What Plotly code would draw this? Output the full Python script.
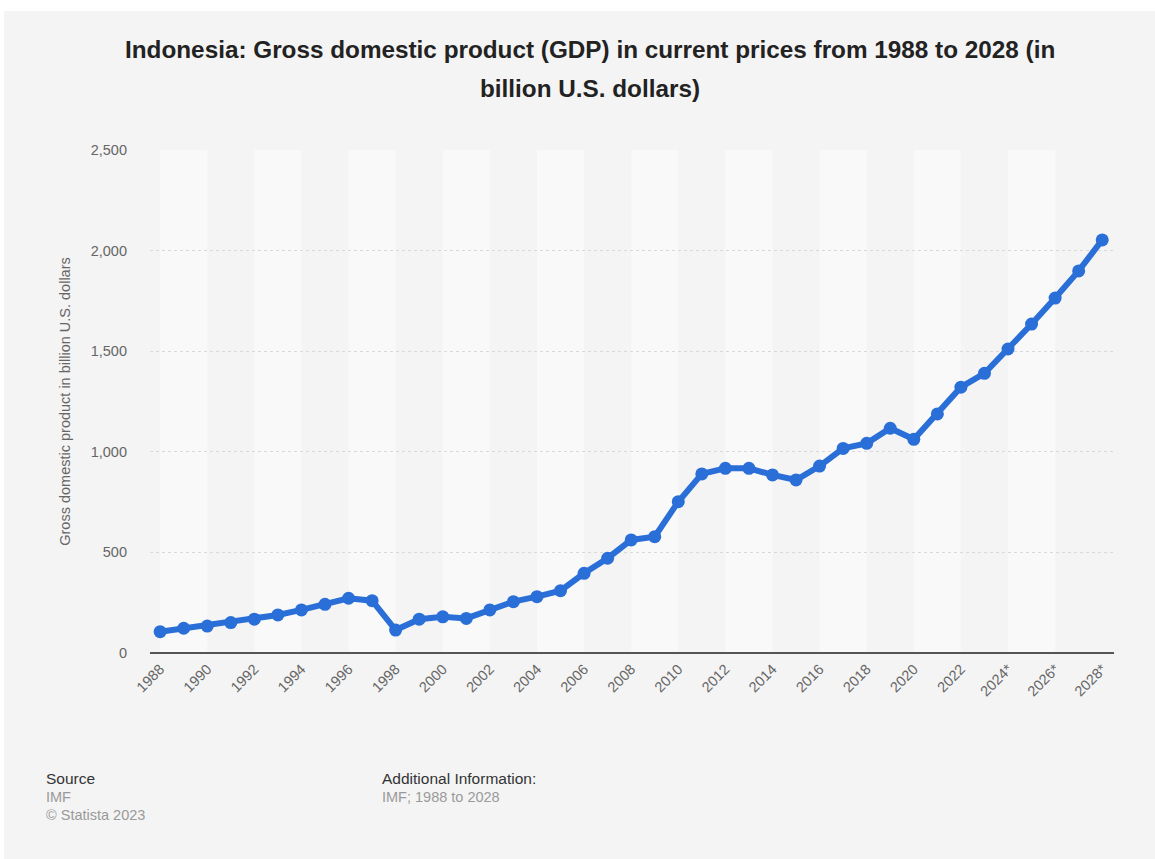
import plotly.graph_objects as go

# Indonesia GDP, current prices, billion U.S. dollars (2024 onward are IMF forecasts)
years = list(range(1988, 2029))
gdp = [106, 123, 134, 151, 168, 189, 214, 242, 272, 260,
       114, 168, 180, 172, 214, 255, 280, 310, 396, 471,
       562, 578, 752, 890, 918, 918, 885, 860, 929, 1017,
       1042, 1117, 1062, 1188, 1321, 1390, 1511, 1635, 1764, 1899,
       2053]
tick_years = list(range(1988, 2029, 2))
tick_labels = [str(y) + ("*" if y >= 2024 else "") for y in tick_years]
y_ticks = [0, 500, 1000, 1500, 2000, 2500]

W, H = 1155, 859
L, R, T, B = 150, 41, 150, 206
pw, ph = W - L - R, H - T - B

def px_x(p):
    return (p - L) / pw

def px_y(p):
    return (H - B - p) / ph

FONT = "Liberation Sans, Arial, sans-serif"
LINE = "#2a6fd7"

fig = go.Figure()
fig.add_trace(go.Scatter(
    x=years, y=gdp, mode="lines+markers",
    line=dict(color=LINE, width=6),
    marker=dict(color=LINE, size=13),
    hoverinfo="x+y", showlegend=False,
))

shapes = [
    # grey card behind everything, with a thin white edge on top and left
    dict(type="rect", xref="paper", yref="paper", layer="below",
         x0=px_x(4), x1=px_x(W + 5), y0=px_y(H + 5), y1=px_y(11),
         fillcolor="#f4f4f4", line=dict(width=0)),
]
# alternating lighter column bands, two years wide
for y0 in range(1988, 2028, 4):
    shapes.append(dict(type="rect", xref="x", yref="paper", layer="below",
                       x0=y0, x1=y0 + 2, y0=0, y1=1,
                       fillcolor="#f9f9f9", line=dict(width=0)))

def note(text, x, y, size, color):
    return dict(text=text, x=px_x(x), y=px_y(y), xref="paper", yref="paper",
                xanchor="left", yanchor="middle", showarrow=False,
                font=dict(family=FONT, size=size, color=color))

title_font = dict(family=FONT, size=24.3, color="#222222", weight="bold")
annotations = [
    dict(text="Indonesia: Gross domestic product (GDP) in current prices from 1988 to 2028 (in",
         x=px_x(590), y=px_y(50), xref="paper", yref="paper",
         xanchor="center", yanchor="middle", showarrow=False, font=title_font),
    dict(text="billion U.S. dollars)",
         x=px_x(590), y=px_y(88), xref="paper", yref="paper",
         xanchor="center", yanchor="middle", showarrow=False, font=title_font),
    note("Source", 44, 779, 15.5, "#333333"),
    note("IMF", 44, 797, 14.5, "#9a9a9a"),
    note("© Statista 2023", 44, 815, 14.5, "#9a9a9a"),
    note("Additional Information:", 380, 779, 15.5, "#333333"),
    note("IMF; 1988 to 2028", 380, 797, 14.5, "#9a9a9a"),
]

fig.update_layout(
    width=W, height=H,
    margin=dict(l=L, r=R, t=T, b=B),
    paper_bgcolor="#ffffff",
    plot_bgcolor="rgba(0,0,0,0)",
    shapes=shapes,
    annotations=annotations,
    font=dict(family=FONT),
)

fig.update_xaxes(
    range=[1987.57, 2028.5],
    tickmode="array", tickvals=tick_years, ticktext=tick_labels,
    tickangle=-45, tickfont=dict(family=FONT, size=14.5, color="#666666"),
    showgrid=False, zeroline=False,
    showline=False, ticks="", ticklabelstandoff=4,
    fixedrange=True,
)
fig.update_yaxes(
    range=[0, 2500],
    tickmode="array", tickvals=y_ticks, tickformat=",d",
    tickfont=dict(family=FONT, size=14.5, color="#666666"),
    showgrid=True, gridcolor="#d9d9d9", griddash="dot", gridwidth=1,
    zeroline=True, zerolinecolor="#555555", zerolinewidth=2,
    ticks="", ticklabelstandoff=22,
    title=dict(text="Gross domestic product in billion U.S. dollars",
               font=dict(family=FONT, size=14.5, color="#666666"), standoff=16),
    fixedrange=True,
)

fig.write_html("out.html")
